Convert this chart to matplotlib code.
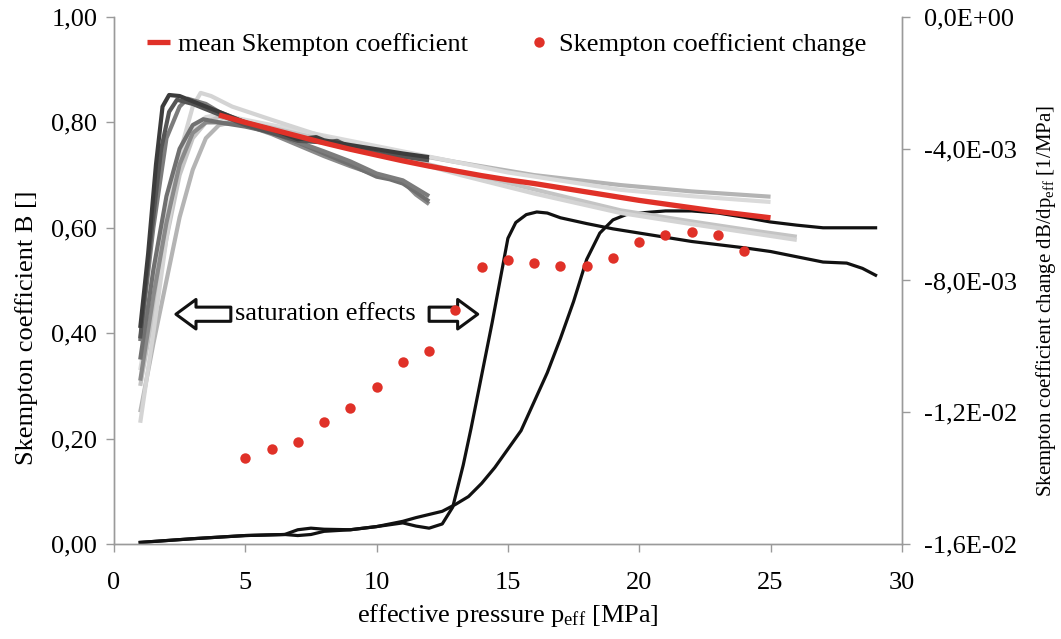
import numpy as np
import matplotlib.pyplot as plt
from matplotlib.ticker import FuncFormatter

plt.rcParams['font.family'] = ['Liberation Serif', 'DejaVu Serif']
plt.rcParams['mathtext.fontset'] = 'custom'
plt.rcParams['mathtext.rm'] = 'Liberation Serif'
plt.rcParams['mathtext.it'] = 'Liberation Serif:italic'

# gray sample curves (B vs p_eff), ending at 12 MPa
s1_x = [1, 1.3, 1.6, 1.85, 2.1, 2.5, 3, 3.5, 4, 5, 6, 7, 7.7, 8, 9, 10, 11, 12]
s1_y = [0.41, 0.55, 0.72, 0.83, 0.852, 0.85, 0.84, 0.83, 0.82, 0.80, 0.787, 0.768, 0.772, 0.766, 0.757, 0.749, 0.741, 0.734]
s2_x = [1, 1.4, 1.8, 2.1, 2.4, 3, 4, 5, 6, 7, 8, 8.5, 9, 10, 11, 12]
s2_y = [0.39, 0.58, 0.75, 0.82, 0.843, 0.835, 0.815, 0.795, 0.78, 0.765, 0.762, 0.765, 0.752, 0.742, 0.735, 0.728]
s3_x = [1, 1.5, 2, 2.5, 3, 3.4, 4, 5, 6, 7, 8, 9, 10, 10.5, 11, 11.5, 12]
s3_y = [0.35, 0.52, 0.66, 0.75, 0.795, 0.806, 0.80, 0.792, 0.781, 0.762, 0.741, 0.72, 0.697, 0.692, 0.684, 0.668, 0.65]
s4_x = [1, 1.5, 2, 2.5, 3, 3.5, 4, 5, 6, 7, 8, 9, 10, 11, 11.5, 12]
s4_y = [0.31, 0.47, 0.61, 0.72, 0.78, 0.80, 0.80, 0.795, 0.778, 0.757, 0.736, 0.717, 0.70, 0.688, 0.663, 0.645]
s5_x = [1, 1.5, 2, 2.5, 2.8, 3.5, 4, 5, 6, 7, 8, 9, 10, 11, 12]
s5_y = [0.385, 0.6, 0.77, 0.83, 0.845, 0.835, 0.82, 0.80, 0.783, 0.763, 0.745, 0.726, 0.703, 0.69, 0.66]

# gray sample curves running to 25-26 MPa
l1_x = [1, 1.5, 2, 2.5, 3, 3.3, 3.7, 4.5, 6, 8.35, 10, 13.2, 16, 19.3, 22, 24, 26]
l1_y = [0.23, 0.40, 0.58, 0.74, 0.83, 0.856, 0.85, 0.83, 0.805, 0.767, 0.745, 0.70, 0.665, 0.628, 0.607, 0.592, 0.577]
l2_x = [1, 1.5, 2, 2.5, 3, 3.5, 4, 4.5, 5, 7, 10, 13, 16, 19.3, 22, 25]
l2_y = [0.25, 0.38, 0.50, 0.62, 0.71, 0.77, 0.795, 0.80, 0.80, 0.78, 0.752, 0.725, 0.70, 0.681, 0.669, 0.659]
l3_x = [1, 1.5, 2, 2.5, 3, 3.5, 4, 6, 9, 12, 15, 19.3, 22, 25]
l3_y = [0.33, 0.48, 0.62, 0.73, 0.79, 0.81, 0.815, 0.795, 0.765, 0.735, 0.705, 0.672, 0.66, 0.649]
l4_x = [1, 1.5, 2, 2.5, 3, 3.5, 4, 6, 9, 12, 15, 19.3, 22, 24, 26]
l4_y = [0.30, 0.44, 0.58, 0.70, 0.77, 0.80, 0.81, 0.79, 0.755, 0.72, 0.685, 0.633, 0.612, 0.597, 0.583]

# black curves
k1_x = [1, 3, 5, 6.5, 7, 7.5, 8, 9, 10, 11, 11.5, 12, 12.5, 12.9, 13.3, 13.6, 14, 14.4, 14.7, 15, 15.3, 15.7,
        16.1, 16.5, 17, 18, 19, 20, 21, 22, 23, 24, 25, 26, 27, 27.9, 28.5, 29]
k1_y = [0.003, 0.01, 0.016, 0.018, 0.027, 0.03, 0.028, 0.027, 0.033, 0.04, 0.034, 0.03, 0.038, 0.07, 0.15, 0.22,
        0.32, 0.42, 0.5, 0.58, 0.61, 0.625, 0.63, 0.628, 0.619, 0.608, 0.598, 0.59, 0.582, 0.574, 0.568, 0.562,
        0.555, 0.545, 0.535, 0.533, 0.523, 0.51]
k2_x = [1, 3, 5, 6.5, 7, 7.5, 8, 9, 10, 11, 11.5, 12, 12.5, 13, 13.5, 14, 14.5, 15, 15.5, 16, 16.5, 17, 17.5,
        18, 18.5, 19, 19.5, 20, 21, 22, 23, 24, 25, 26, 27, 28, 29]
k2_y = [0.003, 0.01, 0.016, 0.018, 0.016, 0.018, 0.024, 0.027, 0.033, 0.043, 0.05, 0.056, 0.062, 0.075, 0.09,
        0.115, 0.145, 0.18, 0.215, 0.27, 0.325, 0.39, 0.46, 0.54, 0.59, 0.615, 0.625, 0.628, 0.632, 0.632, 0.628,
        0.62, 0.611, 0.605, 0.60, 0.60, 0.60]

# mean Skempton coefficient
mean_x = [4, 5, 6, 7, 8, 9, 10, 11, 12, 13, 14, 15, 16, 17, 18, 19, 20, 21, 22, 23, 24, 25]
mean_y = [0.814, 0.80, 0.787, 0.774, 0.761, 0.749, 0.738, 0.727, 0.717, 0.708, 0.699, 0.691, 0.684, 0.676,
          0.668, 0.66, 0.652, 0.645, 0.638, 0.631, 0.625, 0.619]

# Skempton coefficient change (right axis)
dp = [5, 6, 7, 8, 9, 10, 11, 12, 13, 14, 15, 16, 17, 18, 19, 20, 21, 22, 23, 24]
dB = [-0.01339, -0.01312, -0.0129, -0.0123, -0.01187, -0.01123, -0.01047, -0.01014, -0.0089, -0.00759,
      -0.00738, -0.00747, -0.00756, -0.00756, -0.00732, -0.00683, -0.00662, -0.00653, -0.00662, -0.0071]

red = '#e03128'
axc = '#9a9a9a'

fig = plt.figure(figsize=(10.61, 6.39), dpi=100)
ax = fig.add_axes([0.1074, 0.1487, 0.7426, 0.8247])

ax.plot(k1_x, k1_y, color='#111111', lw=2.3, zorder=2)
ax.plot(k2_x, k2_y, color='#111111', lw=2.3, zorder=2)

for xs, ys, c in [(l2_x, l2_y, '#b4b4b4'), (l3_x, l3_y, '#dadada'), (l4_x, l4_y, '#c4c4c4'),
                  (l1_x, l1_y, '#d4d4d4'), (s4_x, s4_y, '#8a8a8a'), (s3_x, s3_y, '#707070'),
                  (s5_x, s5_y, '#7c7c7c'), (s2_x, s2_y, '#555555'), (s1_x, s1_y, '#3c3c3c')]:
    ax.plot(xs, ys, color=c, lw=3.0, zorder=3, solid_capstyle='butt', solid_joinstyle='round')

line_mean, = ax.plot(mean_x, mean_y, color=red, lw=3.8, zorder=5, solid_capstyle='butt',
                     label='mean Skempton coefficient')

ax.set_xlim(0, 30)
ax.set_ylim(0, 1.0)
ax.set_xticks(np.arange(0, 31, 5))
ax.set_yticks(np.arange(0, 1.01, 0.2))
ax.yaxis.set_major_formatter(FuncFormatter(lambda v, p: f"{v:.2f}".replace('.', ',')))
ax.set_xlabel('effective pressure p$_{\\mathrm{eff}}$ [MPa]', fontsize=19, labelpad=6)
ax.set_ylabel('Skempton coefficient B []', fontsize=19)
ax.yaxis.set_label_coords(-0.097, 0.41)

ax2 = ax.twinx()
dots, = ax2.plot(dp, dB, 'o', color=red, ms=7.5, mec='none', zorder=6,
                 label='Skempton coefficient change')
ax2.set_ylim(-0.016, 0)
ax2.set_yticks(np.arange(-0.016, 0.0001, 0.004))
ax2.yaxis.set_major_formatter(FuncFormatter(lambda v, p: f"{(0.0 if abs(v) < 1e-9 else v):.1E}".replace('.', ',')))
ax2.set_ylabel('Skempton coefficient change dB/dp$_{\\mathrm{eff}}$ [1/MPa]', fontsize=15)
ax2.yaxis.set_label_coords(1.168, 0.46)

for a in (ax, ax2):
    a.spines['top'].set_visible(False)
    for s in a.spines.values():
        s.set_color(axc)
        s.set_linewidth(1.0)
    a.tick_params(colors=axc, labelcolor='black', labelsize=19, width=1.0, length=6, direction='out')
ax.tick_params(axis='x', pad=14)
ax2.tick_params(axis='y', pad=10)
ax.tick_params(axis='y', pad=6)

# saturation annotation
arr = dict(arrowstyle='simple,head_length=0.85,head_width=1.25,tail_width=0.6', fc='white', ec='#111111',
           lw=2.2, mutation_scale=17, shrinkA=0, shrinkB=0)
ax.annotate('', xy=(2.36, 0.436), xytext=(4.45, 0.436), arrowprops=arr, zorder=7)
ax.annotate('', xy=(13.85, 0.436), xytext=(12.0, 0.436), arrowprops=arr, zorder=7)
ax.text(8.05, 0.436, 'saturation effects', fontsize=19, ha='center', va='center', zorder=8)

ax2.legend(handles=[line_mean, dots], loc='upper left', bbox_to_anchor=(0.012, 1.015), ncol=2,
           frameon=False, fontsize=19, handlelength=0.85, handletextpad=0.3, columnspacing=2.3)

fig.savefig('out.png', dpi=100)
